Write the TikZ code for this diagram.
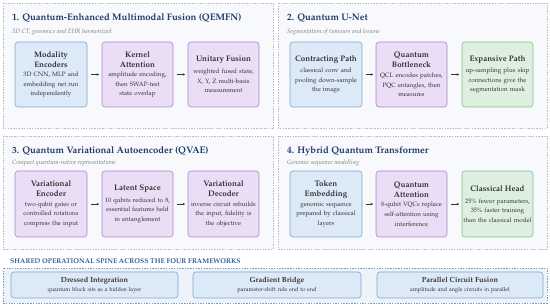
\documentclass[tikz,border=0pt]{standalone}
\usepackage[T1]{fontenc}
\usepackage{mathpazo}
\usepackage{tikz,xcolor}
\usetikzlibrary{arrows.meta}

\definecolor{bluefill}{HTML}{DCE9F6}
\definecolor{blueline}{HTML}{7FA6CF}
\definecolor{purplefill}{HTML}{EBDDF5}
\definecolor{purpleline}{HTML}{A985C9}
\definecolor{greenfill}{HTML}{DDF0DF}
\definecolor{greenline}{HTML}{86BF90}
\definecolor{panelfill}{HTML}{F8F9FC}
\definecolor{panelline}{HTML}{B8BDC8}
\definecolor{titlecol}{HTML}{1F3A6B}
\definecolor{subcol}{HTML}{7A7A7A}
\definecolor{spinefill}{HTML}{EEF3FA}
\definecolor{spineline}{HTML}{7C9DC9}
\definecolor{spinecol}{HTML}{2F5E9E}
\definecolor{bodycol}{HTML}{333333}

\newcommand{\hd}[1]{{\fontsize{8}{10}\selectfont\bfseries #1\par}}
\hyphenpenalty=10000
\exhyphenpenalty=10000

\begin{document}
\begin{tikzpicture}[x=1pt,y=-1pt]

    \useasboundingbox[fill=white] (0,0) rectangle (550,307);

    \tikzstyle{panel}=[fill=panelfill,draw=panelline,dash pattern=on 1.5pt off 1.2pt,line width=0.5pt]
    \tikzstyle{card}=[draw,rounded corners=3pt,line width=0.6pt,align=center,text=bodycol,
        font=\fontsize{6.3}{9.6}\selectfont,inner sep=0.5pt,text width=70pt]
    \tikzstyle{bluecard}=[card,fill=bluefill,draw=blueline]
    \tikzstyle{purplecard}=[card,fill=purplefill,draw=purpleline]
    \tikzstyle{greencard}=[card,fill=greenfill,draw=greenline]
    \tikzstyle{ptitle}=[anchor=west,inner sep=0pt,text=titlecol,font=\fontsize{9.5}{11}\selectfont\bfseries]
    \tikzstyle{psub}=[anchor=west,inner sep=0pt,text=subcol,font=\fontsize{6.2}{7}\selectfont\itshape]
    \tikzstyle{flow}=[-{Stealth[length=2.5pt,width=2.4pt]},line width=0.5pt,draw=bodycol,shorten <=3.5pt,shorten >=2.5pt]

    % four framework panels
    \draw[panel] (3,3) rectangle (273,128);
    \draw[panel] (278,3) rectangle (547,128);
    \draw[panel] (3,136) rectangle (273,249);
    \draw[panel] (278,136) rectangle (547,249);

    % 1. QEMFN
    \node[ptitle](t1) at (12,18){1. Quantum-Enhanced Multimodal Fusion (QEMFN)};
    \node[psub](s1) at (12,32){3D CT, genomics and EHR harmonized};
    \node[bluecard,minimum width=72pt,minimum height=65pt](me) at (51,74.5)
        {\hd{Modality\\Encoders}3D CNN, MLP and\\embedding net run\\independently};
    \node[purplecard,minimum width=71pt,minimum height=65pt](ka) at (137.5,74.5)
        {\hd{Kernel\\Attention}amplitude encoding,\\then SWAP-test\\state overlap};
    \node[purplecard,minimum width=71pt,minimum height=65pt](uf) at (223.5,74.5)
        {\hd{Unitary Fusion}\vspace{2pt}weighted fused state,\\X, Y, Z multi-basis\\measurement};
    \draw[flow](me)--(ka);
    \draw[flow](ka)--(uf);

    % 2. U-Net
    \node[ptitle](t2) at (287,18){2. Quantum U-Net};
    \node[psub](s2) at (287,32){Segmentation of tumours and lesions};
    \node[bluecard,minimum width=72pt,minimum height=65pt](cp) at (326,74.5)
        {\hd{Contracting Path}\vspace{2pt}classical conv and\\pooling down-sample\\the image};
    \node[purplecard,minimum width=71pt,minimum height=65pt](qb) at (411.5,74.5)
        {\hd{Quantum\\Bottleneck}QCL encodes patches,\\PQC entangles, then\\measures};
    \node[greencard,minimum width=71pt,minimum height=65pt](ep) at (497.5,74.5)
        {\hd{Expansive Path}\vspace{2pt}up-sampling plus skip\\connections give the\\segmentation mask};
    \draw[flow](cp)--(qb);
    \draw[flow](qb)--(ep);

    % 3. QVAE
    \node[ptitle](t3) at (12,151){3. Quantum Variational Autoencoder (QVAE)};
    \node[psub](s3) at (12,163){Compact quantum-native representations};
    \node[purplecard,minimum width=72pt,minimum height=66pt](ve) at (51,204)
        {\hd{Variational\\Encoder}two-qubit gates or\\controlled rotations\\compress the input};
    \node[purplecard,minimum width=71pt,minimum height=66pt](ls) at (137.5,204)
        {\hd{Latent Space}\vspace{2pt}10 qubits reduced to 8,\\essential features held\\in entanglement};
    \node[purplecard,minimum width=71pt,minimum height=66pt](vd) at (223.5,204)
        {\hd{Variational\\Decoder}inverse circuit rebuilds\\the input, fidelity is\\the objective};
    \draw[flow](ve)--(ls);
    \draw[flow](ls)--(vd);

    % 4. Transformer
    \node[ptitle](t4) at (287,151){4. Hybrid Quantum Transformer};
    \node[psub](s4) at (287,163){Genomic sequence modelling};
    \node[bluecard,minimum width=72pt,minimum height=66pt](te) at (326,204)
        {\hd{Token\\Embedding}genomic sequence\\prepared by classical\\layers};
    \node[purplecard,minimum width=71pt,minimum height=66pt](qa) at (411.5,204)
        {\hd{Quantum\\Attention}8-qubit VQCs replace\\self-attention using\\interference};
    \node[greencard,minimum width=71pt,minimum height=66pt](ch) at (497.5,204)
        {\hd{Classical Head}\vspace{2pt}25\% fewer parameters,\\35\% faster training\\than the classical model};
    \draw[flow](te)--(qa);
    \draw[flow](qa)--(ch);

    % shared spine
    \node[anchor=west,inner sep=0pt,text=spinecol,font=\fontsize{6.9}{8}\selectfont\bfseries](sp) at (10,261.5)
        {SHARED OPERATIONAL SPINE ACROSS THE FOUR FRAMEWORKS};
    \draw[fill=spinefill,draw=spineline,dash pattern=on 1.5pt off 1.2pt,line width=0.5pt] (3,268) rectangle (547,303);

    \tikzstyle{spinecard}=[bluecard,minimum height=26pt,text width=160pt,font=\fontsize{5.6}{8.5}\selectfont]
    \node[spinecard,minimum width=167pt](di) at (94.5,285)
        {{\fontsize{7.4}{9}\selectfont\bfseries Dressed Integration\par}quantum block sits as a hidden layer};
    \node[spinecard,minimum width=168pt](gb) at (277,285)
        {{\fontsize{7.4}{9}\selectfont\bfseries Gradient Bridge\par}parameter-shift rule end to end};
    \node[spinecard,minimum width=166pt](pc) at (460,285)
        {{\fontsize{7.4}{9}\selectfont\bfseries Parallel Circuit Fusion\par}amplitude and angle circuits in parallel};

\end{tikzpicture}
\end{document}
